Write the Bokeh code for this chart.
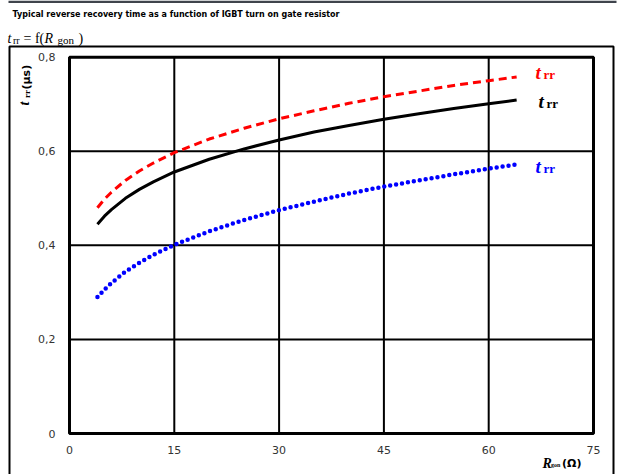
import math
from bokeh.plotting import figure
from bokeh.models import Range1d, Label, BoxAnnotation
from bokeh.core.properties import value
from bokeh.embed import file_html
from bokeh.resources import INLINE

# ---- data ----
r_gon = [4, 5, 6, 8, 10, 12, 15, 20, 25, 30, 35, 40, 45, 50, 55, 60, 64]
trr_red = [0.480, 0.498, 0.513, 0.538, 0.558, 0.575, 0.597, 0.626, 0.649, 0.669,
           0.686, 0.702, 0.716, 0.728, 0.740, 0.750, 0.758]
trr_black = [0.445, 0.462, 0.476, 0.500, 0.519, 0.535, 0.556, 0.583, 0.605, 0.624,
             0.641, 0.655, 0.668, 0.680, 0.691, 0.701, 0.709]
trr_blue = [0.290, 0.306, 0.320, 0.344, 0.363, 0.380, 0.401, 0.430, 0.454, 0.475,
            0.493, 0.510, 0.525, 0.538, 0.551, 0.563, 0.572]
x_ticks = [0, 15, 30, 45, 60, 75]
x_tick_labels = ["0", "15", "30", "45", "60", "75"]
y_ticks = [0, 0.2, 0.4, 0.6, 0.8]
y_tick_labels = ["0", "0,2", "0,4", "0,6", "0,8"]

W, H = 621, 474
# plot-area placement on the page (pixels)
PX0, PX1 = 69.0, 593.0      # x = 0 .. 75
PY0, PY1 = 433.0, 56.7      # y = 0 .. 0.8
XMAX, YMAX = x_ticks[-1], y_ticks[-1]
sx = (PX1 - PX0) / XMAX
sy = (PY0 - PY1) / YMAX

p = figure(width=W, height=H, output_backend="svg", toolbar_location=None,
           x_axis_type=None, y_axis_type=None,
           x_range=Range1d(-PX0 / sx, XMAX + (W - PX1) / sx),
           y_range=Range1d(-(H - PY0) / sy, YMAX + PY1 / sy),
           min_border_left=0, min_border_right=0, min_border_top=0, min_border_bottom=0)
p.background_fill_color = "white"
p.border_fill_color = "white"
p.outline_line_color = None
p.grid.visible = False

def dx(px):
    return (px - PX0) / sx
def dy(py):
    return (PY0 - py) / sy

# grid lines
p.segment(x0=x_ticks[1:-1], y0=[y_ticks[0]] * 4, x1=x_ticks[1:-1], y1=[y_ticks[-1]] * 4,
          line_color="black", line_width=2)
p.segment(x0=[x_ticks[0]] * 3, y0=y_ticks[1:-1], x1=[x_ticks[-1]] * 3, y1=y_ticks[1:-1],
          line_color="black", line_width=2)
# plot-area border
p.quad(left=[x_ticks[0]], right=[x_ticks[-1]], bottom=[y_ticks[0]], top=[y_ticks[-1]],
       fill_color=None, line_color="black", line_width=3)

# tick labels
p.text(x=x_ticks, y=[y_ticks[0]] * len(x_ticks), text=x_tick_labels, y_offset=12,
       text_align="center", text_baseline="top", text_font=value("DejaVu Sans"),
       text_font_size="11px", text_color="#333333")
p.text(x=[x_ticks[0]] * len(y_ticks), y=y_ticks, text=y_tick_labels, x_offset=-14,
       text_align="right", text_baseline="middle", text_font=value("DejaVu Sans"),
       text_font_size="11px", text_color="#333333")

# curves
p.line(r_gon, trr_red, line_color="#FF0000", line_width=3, line_dash="8 5")
p.line(r_gon, trr_black, line_color="black", line_width=3)
p.line(r_gon, trr_blue, line_color="#0000FF", line_width=4.5, line_dash="0 6", line_cap="round")

def lab(text, px, py, font, size, style="normal", color="black", angle=0.0,
        align="left", baseline="alphabetic"):
    p.add_layout(Label(x=dx(px), y=dy(py), text=text, text_font=font,
                       text_font_size=f"{size}px", text_font_style=style,
                       text_color=color, angle=angle, text_align=align,
                       text_baseline=baseline))

SERIF = "Liberation Serif"
SANS = "DejaVu Sans"

# title
lab("Typical reverse recovery time as a function of IGBT turn on gate resistor",
    12, 13.5, SANS, 8, style="bold")

# formula  t_rr = f(R_gon)
lab("t", 7, 38, SERIF, 14, style="italic")
lab("rr", 12.5, 39.5, SERIF, 10)
lab("= f(", 23, 38, SERIF, 14)
lab("R", 44, 38, SERIF, 14, style="italic")
lab("gon", 57, 39.5, SERIF, 11)
lab(")", 78, 38, SERIF, 14)

# y-axis label (rotated)  t_rr(µs)
lab("t", 24, 105, SERIF, 14, style="bold italic", angle=math.pi / 2)
lab("rr", 26, 97.5, SERIF, 9, style="bold", angle=math.pi / 2)
lab("(µs)", 26, 89, SANS, 11, style="bold", angle=math.pi / 2)

# x-axis label  R_gon (Ω)
lab("R", 542, 462.5, SERIF, 14, style="bold italic")
lab("gon", 550.5, 464.5, SERIF, 6, style="bold")
lab("(Ω)", 561.5, 462.5, SANS, 11, style="bold")

# series labels
for col, ty in (("#FF0000", 72), ("black", 101), ("#0000FF", 166)):
    xo = 538 if col == "black" else 535
    lab("t", xo, ty, SERIF, 19, style="bold italic", color=col)
    lab("rr", xo + 8, ty + 2, SERIF, 13, style="bold", color=col)

# outer frame box and top bar
p.add_layout(BoxAnnotation(left=9, right=613, top=46, bottom=500,
                           left_units="canvas", right_units="canvas",
                           top_units="canvas", bottom_units="canvas",
                           fill_alpha=0, fill_color=None,
                           line_color="black", line_alpha=1.0, line_width=2))
p.add_layout(BoxAnnotation(left=8, right=616, top=0, bottom=2.5,
                           left_units="canvas", right_units="canvas",
                           top_units="canvas", bottom_units="canvas",
                           fill_color="#3f444c", fill_alpha=1, line_color=None))

open("out.html", "w").write(file_html(p, INLINE))
